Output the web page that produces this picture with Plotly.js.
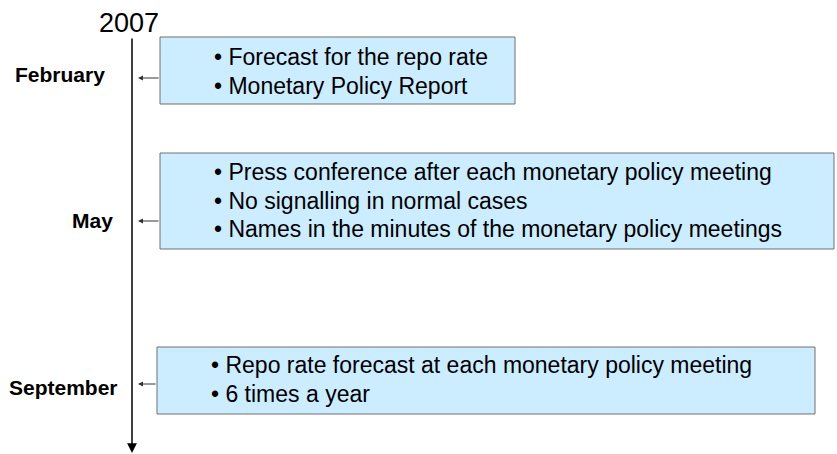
<!DOCTYPE html>
<html>
<head>
<meta charset="utf-8">
<script src="https://cdn.plot.ly/plotly-3.0.1.min.js"></script>
<style>html,body{margin:0;padding:0;background:#fff;}#chart{width:837px;height:454px;}</style>
</head>
<body>
<div id="chart"></div>
<script>
// ---- data ----
const yearLabel = '2007';
const months = ['February', 'May', 'September'];
const februaryItems = ['Forecast for the repo rate', 'Monetary Policy Report'];
const mayItems = ['Press conference after each monetary policy meeting', 'No signalling in normal cases', 'Names in the minutes of the monetary policy meetings'];
const septemberItems = ['Repo rate forecast at each monetary policy meeting', '6 times a year'];
const itemsByMonth = [februaryItems, mayItems, septemberItems];

// ---- layout geometry (pixels) ----
const W = 837, H = 454;
const geo = [
  {box: [160, 37, 515, 104], first: 65, labelX: 107, labelBase: 82, arrowY: 78, textX: 213},
  {box: [160, 153, 834, 249], first: 180, labelX: 115, labelBase: 228, arrowY: 221, textX: 213},
  {box: [157, 347, 815, 414], first: 373, labelX: 120, labelBase: 395, arrowY: 384, textX: 210}
];
const lineGap = 28.5;
const fsItem = 23, fsMonth = 21, fsYear = 27;
const font = 'Liberation Sans, Arial, sans-serif';
const mid = (base, fs) => base - 0.34 * fs;

const shapes = [];
const annotations = [];

// year label
annotations.push({x: 128.5, y: mid(32, fsYear), xref: 'x', yref: 'y', text: yearLabel, showarrow: false,
  xanchor: 'center', yanchor: 'middle', font: {family: font, size: fsYear, color: '#000'}});

// main timeline arrow
annotations.push({x: 132, y: 453, ax: 132, ay: 37, xref: 'x', yref: 'y', axref: 'x', ayref: 'y', text: '',
  showarrow: true, arrowhead: 2, arrowsize: 1.3, arrowwidth: 1.5, arrowcolor: '#000', standoff: 0, startstandoff: 0});

months.forEach((m, i) => {
  const g = geo[i];
  shapes.push({type: 'rect', xref: 'x', yref: 'y', x0: g.box[0], y0: g.box[1], x1: g.box[2], y1: g.box[3],
    fillcolor: '#CCECFF', line: {color: '#707070', width: 1}, layer: 'below'});
  annotations.push({x: g.labelX, y: mid(g.labelBase, fsMonth), xref: 'x', yref: 'y', text: '<b>' + m + '</b>', showarrow: false,
    xanchor: 'right', yanchor: 'middle', font: {family: font, size: fsMonth, color: '#000'}});
  annotations.push({x: 138, y: g.arrowY, ax: g.box[0], ay: g.arrowY, xref: 'x', yref: 'y', axref: 'x', ayref: 'y', text: '',
    showarrow: true, arrowhead: 2, arrowsize: 1, arrowwidth: 1, arrowcolor: '#333', standoff: 0, startstandoff: 0});
  itemsByMonth[i].forEach((t, j) => {
    annotations.push({x: g.textX, y: mid(g.first + j * lineGap, fsItem), xref: 'x', yref: 'y', text: '\u2022 ' + t, showarrow: false,
      xanchor: 'left', yanchor: 'middle', borderpad: 0, font: {family: font, size: fsItem, color: '#000'}});
  });
});

const layout = {
  width: W, height: H,
  margin: {l: 0, r: 0, t: 0, b: 0},
  paper_bgcolor: '#fff', plot_bgcolor: '#fff',
  xaxis: {range: [0, W], visible: false, fixedrange: true},
  yaxis: {range: [H, 0], visible: false, fixedrange: true},
  shapes: shapes, annotations: annotations, showlegend: false
};
Plotly.newPlot('chart', [], layout, {displayModeBar: false, staticPlot: true});
</script>
</body>
</html>
